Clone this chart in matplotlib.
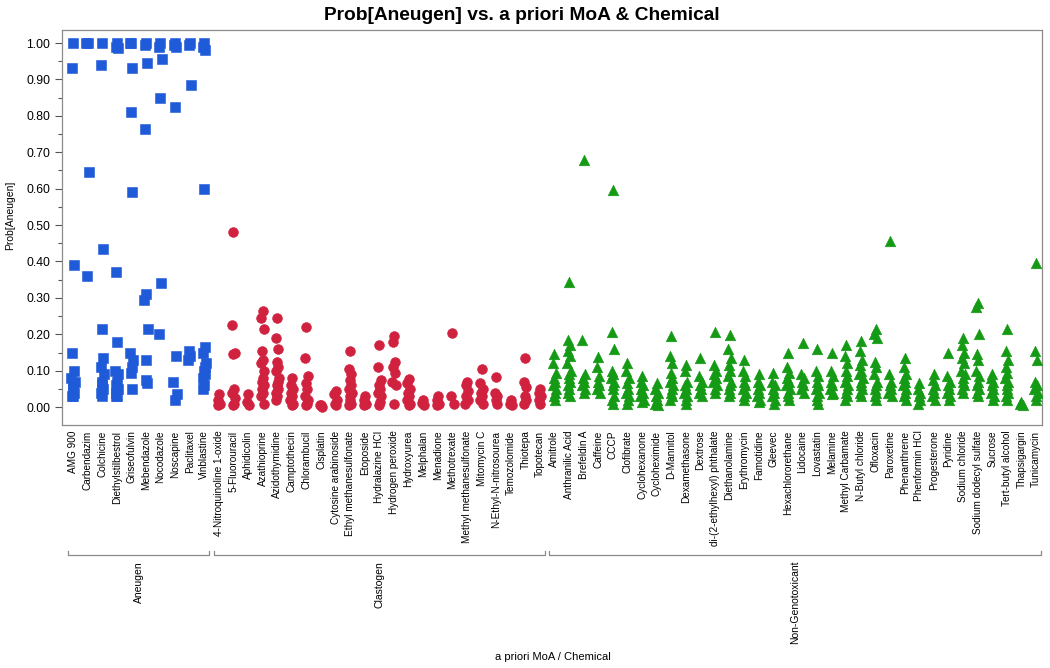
import matplotlib
matplotlib.use("Agg")
import matplotlib.pyplot as plt
from matplotlib.transforms import blended_transform_factory
from matplotlib.ticker import MultipleLocator

plt.rcParams['font.family'] = ['Liberation Sans', 'DejaVu Sans']

# ---------------- data ----------------
groups = ["Aneugen", "Clastogen", "Non-Genotoxicant"]

aneugen_chemicals = ["AMG 900", "Carbendazim", "Colchicine", "Diethylstilbestrol", "Griseofulvin",
                     "Mebendazole", "Nocodazole", "Noscapine", "Paclitaxel", "Vinblastine"]
aneugen_values = [
    [1.0, 0.93, 0.39, 0.15, 0.10, 0.08, 0.07, 0.06, 0.05, 0.04, 0.03, 0.03],
    [1.0, 1.0, 0.645, 0.36],
    [1.0, 0.94, 0.435, 0.215, 0.135, 0.11, 0.09, 0.07, 0.06, 0.05, 0.04, 0.03],
    [1.0, 0.99, 0.985, 0.37, 0.18, 0.10, 0.09, 0.07, 0.06, 0.05, 0.04, 0.03, 0.03],
    [1.0, 1.0, 0.93, 0.81, 0.59, 0.15, 0.13, 0.11, 0.095, 0.05],
    [1.0, 0.995, 0.945, 0.765, 0.31, 0.295, 0.215, 0.13, 0.075, 0.065],
    [1.0, 0.99, 0.955, 0.85, 0.34, 0.20],
    [1.0, 0.995, 0.99, 0.825, 0.14, 0.07, 0.035, 0.02],
    [1.0, 0.995, 0.885, 0.155, 0.14, 0.13],
    [1.0, 0.99, 0.98, 0.60, 0.165, 0.15, 0.12, 0.11, 0.10, 0.09, 0.08, 0.06, 0.05],
]

clastogen_chemicals = ["4-Nitroquinoline 1-oxide", "5-Fluorouracil", "Aphidicolin", "Azathioprine",
                       "Azidothymidine", "Camptothecin", "Chlorambucil", "Cisplatin",
                       "Cytosine arabinoside", "Ethyl methanesulfonate", "Etoposide", "Hydralazine HCl",
                       "Hydrogen peroxide", "Hydroxyurea", "Melphalan", "Menadione", "Methotrexate",
                       "Methyl methanesulfonate", "Mitomycin C", "N-Ethyl-N-nitrosourea",
                       "Temozolomide", "Thiotepa", "Topotecan"]
clastogen_values = [
    [0.035, 0.02, 0.01, 0.005],
    [0.48, 0.225, 0.15, 0.145, 0.05, 0.04, 0.025, 0.01, 0.005],
    [0.035, 0.015, 0.005],
    [0.265, 0.245, 0.215, 0.155, 0.13, 0.12, 0.10, 0.08, 0.07, 0.06, 0.05, 0.04, 0.03, 0.01],
    [0.245, 0.19, 0.16, 0.125, 0.11, 0.10, 0.08, 0.07, 0.06, 0.05, 0.04, 0.03, 0.02],
    [0.08, 0.06, 0.05, 0.04, 0.03, 0.02, 0.01, 0.005],
    [0.22, 0.135, 0.085, 0.065, 0.05, 0.03, 0.02, 0.01, 0.005],
    [0.005, 0.005, 0.0],
    [0.045, 0.035, 0.02, 0.01, 0.005],
    [0.155, 0.105, 0.09, 0.075, 0.06, 0.05, 0.04, 0.03, 0.02, 0.01, 0.005],
    [0.03, 0.02, 0.01, 0.005],
    [0.17, 0.11, 0.075, 0.06, 0.05, 0.04, 0.03, 0.015, 0.005],
    [0.195, 0.18, 0.125, 0.11, 0.095, 0.07, 0.06, 0.01],
    [0.077, 0.065, 0.05, 0.04, 0.03, 0.02, 0.01, 0.005],
    [0.02, 0.012, 0.005],
    [0.03, 0.02, 0.01, 0.005],
    [0.205, 0.03, 0.01],
    [0.07, 0.06, 0.045, 0.03, 0.02, 0.01],
    [0.105, 0.065, 0.05, 0.04, 0.03, 0.02, 0.01],
    [0.082, 0.04, 0.03, 0.02, 0.01],
    [0.02, 0.01, 0.005],
    [0.135, 0.07, 0.055, 0.03, 0.02, 0.01],
    [0.05, 0.04, 0.03, 0.02, 0.01],
]

nongenotox_chemicals = ["Amitrole", "Anthranilic Acid", "Brefeldin A", "Caffeine", "CCCP", "Clofibrate",
                        "Cyclohexanone", "Cycloheximide", "D-Mannitol", "Dexamethasone", "Dextrose",
                        "di-(2-ethylhexyl) phthalate", "Diethanolamine", "Erythromycin", "Famotidine",
                        "Gleevec", "Hexachlororethane", "Lidocaine", "Lovastatin", "Melamine",
                        "Methyl Carbamate", "N-Butyl chloride", "Ofloxacin", "Paroxetine", "Phenanthrene",
                        "Phenformin HCl", "Progesterone", "Pyridine", "Sodium chloride",
                        "Sodium dodecyl sulfate", "Sucrose", "Tert-butyl alcohol", "Thapsigargin",
                        "Tunicamycin"]
nongenotox_values = [
    [0.145, 0.12, 0.095, 0.08, 0.07, 0.06, 0.05, 0.04, 0.03, 0.02],
    [0.345, 0.185, 0.17, 0.155, 0.14, 0.12, 0.10, 0.09, 0.08, 0.07, 0.06, 0.05, 0.04, 0.03],
    [0.68, 0.185, 0.09, 0.08, 0.07, 0.06, 0.05, 0.04],
    [0.138, 0.11, 0.085, 0.07, 0.06, 0.05, 0.04],
    [0.595, 0.207, 0.16, 0.10, 0.09, 0.08, 0.07, 0.06, 0.05, 0.03, 0.02, 0.01],
    [0.12, 0.10, 0.08, 0.065, 0.05, 0.04, 0.03, 0.02, 0.01],
    [0.085, 0.07, 0.06, 0.05, 0.04, 0.03, 0.02, 0.015],
    [0.065, 0.05, 0.04, 0.03, 0.02, 0.01, 0.005],
    [0.195, 0.14, 0.12, 0.095, 0.08, 0.07, 0.06, 0.05, 0.04, 0.03, 0.02],
    [0.115, 0.10, 0.07, 0.06, 0.05, 0.04, 0.03, 0.02, 0.01],
    [0.135, 0.085, 0.07, 0.06, 0.05, 0.04, 0.03],
    [0.207, 0.115, 0.10, 0.09, 0.08, 0.07, 0.06, 0.05, 0.04],
    [0.198, 0.16, 0.135, 0.115, 0.10, 0.085, 0.07, 0.06, 0.05, 0.04, 0.03],
    [0.13, 0.10, 0.085, 0.07, 0.06, 0.05, 0.04, 0.03, 0.02],
    [0.09, 0.07, 0.06, 0.05, 0.04, 0.03, 0.02, 0.015],
    [0.095, 0.07, 0.06, 0.05, 0.04, 0.03, 0.02, 0.01],
    [0.148, 0.11, 0.095, 0.08, 0.07, 0.06, 0.05, 0.04, 0.03, 0.02],
    [0.175, 0.09, 0.08, 0.07, 0.06, 0.05, 0.04],
    [0.16, 0.10, 0.085, 0.07, 0.06, 0.05, 0.04, 0.03, 0.02, 0.01],
    [0.15, 0.10, 0.085, 0.07, 0.06, 0.05, 0.04, 0.035],
    [0.17, 0.14, 0.12, 0.10, 0.085, 0.07, 0.06, 0.05, 0.04, 0.03, 0.02],
    [0.183, 0.155, 0.13, 0.115, 0.10, 0.09, 0.08, 0.07, 0.06, 0.05, 0.04, 0.03],
    [0.215, 0.20, 0.19, 0.125, 0.11, 0.09, 0.07, 0.06, 0.05, 0.04, 0.03, 0.02],
    [0.455, 0.09, 0.07, 0.06, 0.05, 0.04, 0.03],
    [0.135, 0.11, 0.09, 0.08, 0.07, 0.06, 0.05, 0.04, 0.03, 0.02],
    [0.065, 0.05, 0.04, 0.03, 0.02, 0.01],
    [0.09, 0.075, 0.06, 0.05, 0.04, 0.03, 0.02],
    [0.148, 0.085, 0.07, 0.06, 0.05, 0.04, 0.03, 0.02],
    [0.19, 0.17, 0.15, 0.135, 0.12, 0.10, 0.09, 0.08, 0.07, 0.06, 0.05, 0.04],
    [0.285, 0.275, 0.20, 0.145, 0.13, 0.10, 0.085, 0.07, 0.06, 0.05, 0.04, 0.03],
    [0.09, 0.08, 0.07, 0.06, 0.05, 0.04, 0.03, 0.02],
    [0.215, 0.155, 0.13, 0.11, 0.095, 0.08, 0.07, 0.06, 0.05, 0.04, 0.03, 0.02],
    [0.015, 0.01, 0.005],
    [0.395, 0.155, 0.13, 0.07, 0.06, 0.05, 0.04, 0.03, 0.02],
]

y_ticks = [0.0, 0.1, 0.2, 0.3, 0.4, 0.5, 0.6, 0.7, 0.8, 0.9, 1.0]

# ---------------- style ----------------
group_chems = [aneugen_chemicals, clastogen_chemicals, nongenotox_chemicals]
group_vals = [aneugen_values, clastogen_values, nongenotox_values]
group_styles = [
    dict(marker="s", color="#1f5ad8", s=50),
    dict(marker="o", color="#d0213f", s=50),
    dict(marker="^", color="#149a14", s=58),
]
jitter_pattern = [0.0, -0.08, 0.08, -0.04, 0.04, -0.11, 0.11, 0.02, -0.02, 0.06, -0.06]

fig = plt.figure(figsize=(10.5, 6.68), dpi=100)
W, H = 1050, 668
ax = fig.add_axes([62 / W, 1 - 425 / H, (1042 - 62) / W, (425 - 30) / H])

all_chems = []
idx = 0
group_ranges = []
for chems, vals, st in zip(group_chems, group_vals, group_styles):
    start = idx
    for name, v in zip(chems, vals):
        xs = [idx + jitter_pattern[k % len(jitter_pattern)] for k in range(len(v))]
        ax.scatter(xs, v, marker=st["marker"], s=st["s"], color=st["color"],
                   edgecolors=st["color"], linewidths=0.4, zorder=3)
        all_chems.append(name)
        idx += 1
    group_ranges.append((start, idx - 1))

n = len(all_chems)
ax.set_xlim(-0.75, n - 1 + 0.41)
ax.set_ylim(-0.049, 1.0357)

ax.set_xticks(range(n))
ax.set_xticklabels(all_chems, rotation=90, fontsize=7.2, va="top", ha="center")
ax.tick_params(axis="x", length=0, pad=4)

ax.set_yticks(y_ticks)
ax.set_yticklabels([f"{t:.2f}" for t in y_ticks], fontsize=8.8)
ax.yaxis.set_minor_locator(MultipleLocator(0.05))
ax.tick_params(axis="y", which="major", length=5, width=0.8, color="#555555", direction="out")
ax.tick_params(axis="y", which="minor", length=3, width=0.8, color="#555555", direction="out")

for sp in ax.spines.values():
    sp.set_color("#8a8a8a")
    sp.set_linewidth(0.9)

fig.text(522 / W, 1 - 15 / H, "Prob[Aneugen] vs. a priori MoA & Chemical", fontsize=13.8,
         fontweight="bold", ha="center", va="center")
fig.text(10 / W, 1 - 215 / H, "Prob[Aneugen]", rotation=90, fontsize=7.5, ha="center", va="center")
fig.text(553 / W, 1 - 657 / H, "a priori MoA / Chemical", fontsize=8, ha="center", va="center")

# group brackets
trans = blended_transform_factory(ax.transData, fig.transFigure)
yb = 1 - 555 / H
ytick_up = 1 - 551 / H
for g, (a, b) in zip(groups, group_ranges):
    x0, x1 = a - 0.35, b + 0.35
    ax.plot([x0, x0, x1, x1], [ytick_up, yb, yb, ytick_up], transform=trans, color="#8a8a8a",
            lw=0.9, clip_on=False)
    ax.text((a + b) / 2, 1 - 561 / H, g, transform=trans, rotation=90, fontsize=7.5,
            ha="center", va="top")

fig.savefig("out.png", dpi=100)
